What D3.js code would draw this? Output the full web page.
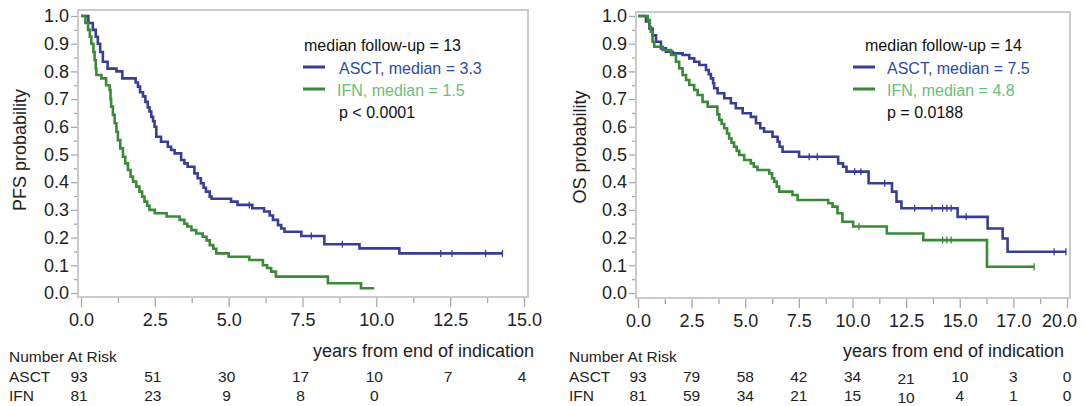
<!DOCTYPE html>
<html>
<head>
<meta charset="utf-8">
<script src="https://cdn.jsdelivr.net/npm/d3@7"></script>
<style>
  body { margin: 0; background: #fff; }
  svg { font-family: "Liberation Sans", Arial, sans-serif; }
</style>
</head>
<body>
<div class="container"></div>
<script>
// Kaplan-Meier steps: [years, survival probability]
const pfsAsct = [
  [0, 1.0], [0.25, 0.975], [0.4, 0.95], [0.5, 0.925], [0.57, 0.9], [0.65, 0.87],
  [0.74, 0.835], [0.9, 0.81], [1.2, 0.8], [1.4, 0.775], [1.85, 0.76], [1.93, 0.745],
  [2.0, 0.725], [2.1, 0.71], [2.18, 0.69], [2.26, 0.67], [2.32, 0.655], [2.38, 0.636],
  [2.44, 0.62], [2.49, 0.6], [2.55, 0.564], [2.71, 0.546], [2.94, 0.528], [3.05, 0.516],
  [3.17, 0.504], [3.39, 0.48], [3.5, 0.468], [3.61, 0.456], [3.84, 0.432], [3.95, 0.414],
  [4.06, 0.396], [4.15, 0.38], [4.23, 0.366], [4.36, 0.348], [4.42, 0.34], [5.08, 0.33],
  [5.3, 0.318], [5.8, 0.306], [6.2, 0.294], [6.39, 0.28], [6.5, 0.264], [6.67, 0.245],
  [6.78, 0.233], [6.89, 0.221], [7.46, 0.206], [8.24, 0.176], [9.43, 0.161], [10.78, 0.143],
  [14.27, 0.143]
]
const pfsIfn = [
  [0, 1.0], [0.15, 0.975], [0.24, 0.95], [0.3, 0.925], [0.35, 0.9], [0.42, 0.87],
  [0.46, 0.84], [0.5, 0.81], [0.52, 0.787], [0.69, 0.775], [0.85, 0.75], [0.97, 0.733],
  [1.0, 0.7], [1.02, 0.673], [1.08, 0.643], [1.14, 0.613], [1.2, 0.582], [1.25, 0.552],
  [1.33, 0.522], [1.42, 0.492], [1.5, 0.468], [1.59, 0.444], [1.68, 0.42], [1.76, 0.402],
  [1.87, 0.384], [1.98, 0.366], [2.07, 0.348], [2.15, 0.33], [2.24, 0.315], [2.32, 0.3],
  [2.5, 0.288], [2.9, 0.276], [3.34, 0.264], [3.5, 0.25], [3.6, 0.24], [3.74, 0.227],
  [3.9, 0.215], [4.12, 0.203], [4.25, 0.19], [4.36, 0.173], [4.48, 0.16], [4.58, 0.143],
  [5.0, 0.131], [5.7, 0.119], [6.16, 0.1], [6.3, 0.09], [6.44, 0.077], [6.6, 0.059],
  [8.36, 0.035], [9.48, 0.017], [9.93, 0.017]
]
const osAsct = [
  [0, 1.0], [0.37, 0.98], [0.53, 0.955], [0.68, 0.93], [0.84, 0.907], [1.07, 0.883],
  [1.3, 0.871], [1.62, 0.865], [2.08, 0.859], [2.39, 0.847], [2.62, 0.835], [2.86, 0.823],
  [3.17, 0.805], [3.3, 0.79], [3.4, 0.775], [3.5, 0.757], [3.55, 0.739], [3.71, 0.721],
  [4.02, 0.703], [4.33, 0.685], [4.56, 0.667], [4.88, 0.649], [5.26, 0.636], [5.5, 0.613],
  [5.7, 0.595], [5.88, 0.582], [6.27, 0.564], [6.51, 0.546], [6.6, 0.528], [6.74, 0.51],
  [7.51, 0.492], [9.33, 0.468], [9.56, 0.456], [9.72, 0.438], [10.75, 0.396], [11.84, 0.366],
  [12.05, 0.33], [12.28, 0.306], [14.9, 0.275], [16.3, 0.233], [17.0, 0.197], [17.23, 0.149],
  [19.95, 0.149]
]
const osIfn = [
  [0, 1.0], [0.45, 0.985], [0.55, 0.96], [0.6, 0.943], [0.68, 0.907], [0.76, 0.889],
  [1.15, 0.877], [1.54, 0.859], [1.77, 0.835], [1.92, 0.811], [2.08, 0.787], [2.24, 0.769],
  [2.39, 0.751], [2.62, 0.733], [2.78, 0.715], [3.01, 0.69], [3.25, 0.673], [3.7, 0.645],
  [3.79, 0.625], [3.9, 0.61], [4.02, 0.595], [4.15, 0.576], [4.25, 0.558], [4.36, 0.543],
  [4.48, 0.528], [4.6, 0.513], [4.72, 0.498], [4.95, 0.48], [5.26, 0.468], [5.4, 0.456],
  [5.57, 0.444], [6.12, 0.432], [6.25, 0.414], [6.35, 0.402], [6.47, 0.384], [6.58, 0.366],
  [7.2, 0.354], [7.44, 0.336], [8.87, 0.324], [9.07, 0.312], [9.3, 0.288], [9.53, 0.257],
  [10.03, 0.24], [11.6, 0.215], [13.3, 0.191], [16.27, 0.095], [18.47, 0.095]
]

// censoring marks (years)
const pfsAsctCensor = [5.7, 7.8, 8.85, 12.18, 12.56, 13.7, 14.27]
const pfsIfnCensor = []
const osAsctCensor = [7.98, 8.36, 10.1, 10.39, 11.5, 12.9, 13.7, 14.2, 14.4, 14.6, 15.3, 19.4, 19.95]
const osIfnCensor = [10.3, 14.2, 14.4, 14.6, 18.47]

const pfsXTicks = ['0.0', '2.5', '5.0', '7.5', '10.0', '12.5', '15.0']
const osXTicks = ['0.0', '2.5', '5.0', '7.5', '10.0', '12.5', '15.0', '17.0', '20.0']

const pfsRiskAsct = ['93', '51', '30', '17', '10', '7', '4']
const pfsRiskIfn = ['81', '23', '9', '8', '0']
const osRiskAsct = ['93', '79', '58', '42', '34', '21', '10', '3', '0']
const osRiskIfn = ['81', '59', '34', '21', '15', '10', '4', '1', '0']

const pfsLegend = ['median follow-up = 13', 'ASCT, median = 3.3', 'IFN, median = 1.5', 'p < 0.0001']
const osLegend = ['median follow-up = 14', 'ASCT, median = 7.5', 'IFN, median = 4.8', 'p = 0.0188']

const blue = '#383d95'
const green = '#3a8a37'
const blueText = '#2b4ca8'
const greenText = '#6cbd7a'

const svg = d3.select('.container').append('svg')
  .attr('width', 1084).attr('height', 406)

function survAt(steps, t) {
  let s = 1
  steps.forEach((d) => { if (d[0] <= t) s = d[1] })
  return s
}

function drawPanel(p) {
  const x = d3.scaleLinear().domain([0, p.xMax]).range([p.x0, p.x1])
  const y = d3.scaleLinear().domain([0, 1]).range([293, 16])
  const g = svg.append('g')

  g.append('rect')
    .attr('x', p.fx0).attr('y', p.fy0)
    .attr('width', p.fx1 - p.fx0).attr('height', p.fy1 - p.fy0)
    .attr('fill', 'none').attr('stroke', '#cbcbcb').attr('stroke-width', 2)

  // y axis
  const yMajor = d3.range(0, 11).map((i) => i / 10)
  const yMinor = d3.range(0, 10).map((i) => i / 10 + 0.05)
  g.append('g').attr('transform', `translate(${p.fx0 - 1},0)`)
    .call(d3.axisLeft(y).tickValues(yMajor).tickSize(6).tickPadding(2).tickFormat(d3.format('.1f')))
  g.append('g').attr('transform', `translate(${p.fx0 - 1},0)`)
    .call(d3.axisLeft(y).tickValues(yMinor).tickSize(3).tickFormat(''))

  // x axis
  const xMajor = p.xTicks.map((d, i) => i * 2.5)
  const xMinor = p.xTicks.slice(1).map((d, i) => i * 2.5 + 1.25)
  const xa = g.append('g').attr('transform', `translate(0,${p.fy1 + 1})`)
    .call(d3.axisBottom(x).tickValues(xMajor).tickSize(9).tickPadding(6).tickFormat((d, i) => p.xTicks[i]))
  g.append('g').attr('transform', `translate(0,${p.fy1 + 1})`)
    .call(d3.axisBottom(x).tickValues(xMinor).tickSize(5).tickFormat(''))

  g.selectAll('.domain').remove()
  g.selectAll('.tick line').attr('stroke', '#a8a8a8').attr('stroke-width', 1.3)
  g.selectAll('.tick text').attr('fill', '#222').attr('font-size', 18)
    .attr('font-family', '"Liberation Sans", Arial, sans-serif')
  if (p.lastLabelShift) {
    xa.selectAll('.tick text').filter((d, i) => i === p.xTicks.length - 1)
      .attr('dx', p.lastLabelShift)
  }

  // y label
  g.append('text')
    .attr('transform', `translate(${p.yLabelX},${p.yLabelY}) rotate(-90)`)
    .attr('text-anchor', 'middle')
    .attr('font-size', 18).attr('fill', '#222')
    .text(p.yLabel)

  // curves
  const line = d3.line().x((d) => x(d[0])).y((d) => y(d[1])).curve(d3.curveStepAfter)
  p.series.forEach((s) => {
    g.append('path').datum(s.steps)
      .attr('d', line).attr('fill', 'none')
      .attr('stroke', s.color).attr('stroke-width', 2.6)
    g.selectAll(null).data(s.censor).enter().append('line')
      .attr('x1', (t) => x(t)).attr('x2', (t) => x(t))
      .attr('y1', (t) => y(survAt(s.steps, t)) - 3.5)
      .attr('y2', (t) => y(survAt(s.steps, t)) + 3.5)
      .attr('stroke', s.color).attr('stroke-width', 1.3)
  })

  // legend
  const lg = g.append('g').attr('font-size', 16)
  lg.append('text').attr('x', p.legX).attr('y', 51).attr('fill', '#111').text(p.legend[0])
  lg.append('line').attr('x1', p.legLineX).attr('x2', p.legLineX + 22)
    .attr('y1', 67).attr('y2', 67).attr('stroke', blue).attr('stroke-width', 3)
  lg.append('text').attr('x', p.legX2).attr('y', 74).attr('fill', blueText).text(p.legend[1])
  lg.append('line').attr('x1', p.legLineX).attr('x2', p.legLineX + 22)
    .attr('y1', 89).attr('y2', 89).attr('stroke', green).attr('stroke-width', 3)
  lg.append('text').attr('x', p.legX3).attr('y', 96).attr('fill', greenText).text(p.legend[2])
  lg.append('text').attr('x', p.legX2).attr('y', 118).attr('fill', '#111').text(p.legend[3])

  // number at risk, one column per major x tick
  const rk = g.append('g').attr('font-size', 15.5).attr('fill', '#222')
  rk.append('text').attr('x', p.riskX).attr('y', 362).text('Number At Risk')
  rk.append('text').attr('x', p.yearsX).attr('y', 357).attr('font-size', 18).text('years from end of indication')
  rk.append('text').attr('x', p.riskX).attr('y', 382).text('ASCT')
  rk.append('text').attr('x', p.riskX).attr('y', 401).text('IFN')
  const colDy = (i) => (p.riskDrop && p.riskDrop.includes(i) ? 2 : 0)
  rk.selectAll(null).data(p.riskAsct).enter().append('text')
    .attr('x', (d, i) => x(xMajor[i]) + p.riskShift).attr('y', (d, i) => 382 + colDy(i))
    .attr('text-anchor', 'middle').text((d) => d)
  rk.selectAll(null).data(p.riskIfn).enter().append('text')
    .attr('x', (d, i) => x(xMajor[i]) + p.riskShift).attr('y', (d, i) => 401 + colDy(i))
    .attr('text-anchor', 'middle').text((d) => d)
}

drawPanel({
  xMax: 15, x0: 81, x1: 524, fx0: 78, fx1: 528, fy0: 10, fy1: 297,
  xTicks: pfsXTicks, yLabel: 'PFS probability', yLabelX: 26, yLabelY: 150,
  series: [
    { steps: pfsAsct, censor: pfsAsctCensor, color: blue },
    { steps: pfsIfn, censor: pfsIfnCensor, color: green }
  ],
  legend: pfsLegend, legX: 304, legX2: 339, legX3: 337, legLineX: 303,
  riskX: 9, yearsX: 313, riskAsct: pfsRiskAsct, riskIfn: pfsRiskIfn, riskShift: -2
})

drawPanel({
  xMax: 20, x0: 638, x1: 1067, fx0: 636, fx1: 1070, fy0: 12, fy1: 298,
  xTicks: osXTicks, yLabel: 'OS probability', yLabelX: 586, yLabelY: 147, lastLabelShift: -8,
  series: [
    { steps: osAsct, censor: osAsctCensor, color: blue },
    { steps: osIfn, censor: osIfnCensor, color: green }
  ],
  legend: osLegend, legX: 865, legX2: 887, legX3: 887, legLineX: 853,
  riskX: 569, yearsX: 843, riskAsct: osRiskAsct, riskIfn: osRiskIfn, riskShift: 0, riskDrop: [5]
})
</script>
</body>
</html>
